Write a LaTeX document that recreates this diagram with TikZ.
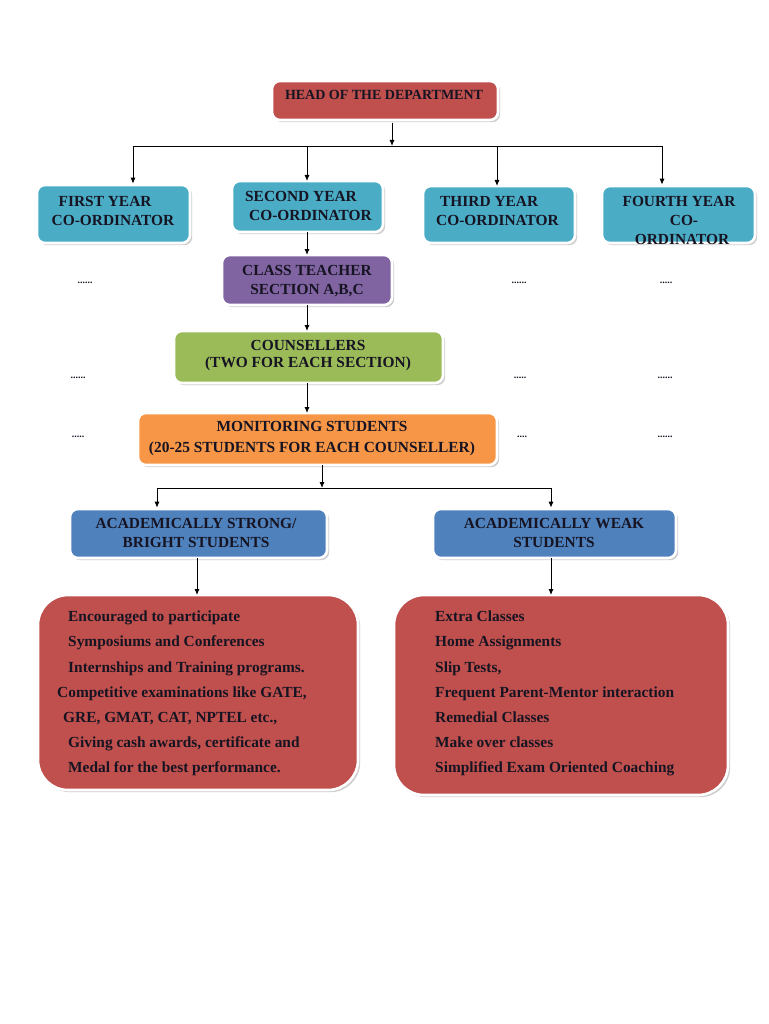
\documentclass[tikz,border=0pt]{standalone}
\usepackage{fontspec}
\setmainfont{Liberation Serif}
\usetikzlibrary{arrows.meta,shadows}
\definecolor{hodred}{HTML}{C0504D}
\definecolor{cyanbox}{HTML}{4BACC6}
\definecolor{purplebox}{HTML}{8064A2}
\definecolor{greenbox}{HTML}{9BBB59}
\definecolor{orangebox}{HTML}{F79646}
\definecolor{bluebox}{HTML}{4F81BD}
\definecolor{txtcol}{RGB}{22,20,34}
\begin{document}
\begin{tikzpicture}[x=1pt,y=-1pt,
  box/.style={rounded corners=8pt, draw=white, line width=2.6pt, inner sep=0pt,
    drop shadow={shadow xshift=2.2pt, shadow yshift=-2.2pt, fill=black!35, opacity=0.55}},
  bigbox/.style={box, rounded corners=30pt},
  lbl/.style={inner sep=0pt, text=txtcol, font=\fontsize{15.4}{19}\selectfont\bfseries},
  listtxt/.style={inner sep=0pt, text=txtcol, align=left, anchor=north west,
    font=\fontsize{15.4}{25.1}\selectfont\bfseries},
  dotstxt/.style={inner sep=0pt, text=txtcol, font=\fontsize{10}{12}\selectfont\bfseries},
  arr/.style={line width=0.9pt, -{Latex[length=6pt,width=5pt]}},
  ln/.style={line width=0.9pt}]
\useasboundingbox[fill=white] (0,0) rectangle (768,1024);

% boxes
\node[box, fill=hodred, minimum width=226pt, minimum height=39pt] (head) at (385,100.5) {};
\node[box, fill=cyanbox, minimum width=153pt, minimum height=58pt] (fy) at (113.5,214) {};
\node[box, fill=cyanbox, minimum width=151pt, minimum height=51pt] (sy) at (307.5,206.5) {};
\node[box, fill=cyanbox, minimum width=152pt, minimum height=57pt] (ty) at (499,214.5) {};
\node[box, fill=cyanbox, minimum width=153pt, minimum height=57pt] (fo) at (678.5,214.5) {};
\node[box, fill=purplebox, minimum width=170pt, minimum height=50pt] (ct) at (307,280) {};
\node[box, fill=greenbox, minimum width=269pt, minimum height=52pt] (co) at (308.5,357) {};
\node[box, fill=orangebox, minimum width=359pt, minimum height=52pt] (mo) at (317.5,439) {};
\node[box, fill=bluebox, minimum width=257pt, minimum height=49pt] (st) at (198.5,533.5) {};
\node[box, fill=bluebox, minimum width=243pt, minimum height=49pt] (wk) at (554.5,533.5) {};
\node[bigbox, fill=hodred, minimum width=320pt, minimum height=195pt] (lb) at (198,692.5) {};
\node[bigbox, fill=hodred, minimum width=334pt, minimum height=200pt] (rb) at (561,695) {};

% labels
\node[lbl, font=\fontsize{14}{19}\selectfont\bfseries] (headT) at (384,95) {HEAD OF THE DEPARTMENT};
\node[lbl, align=left] (fyT) at (113,210.5) {\hspace*{7pt}FIRST YEAR\\CO-ORDINATOR};
\node[lbl, align=left] (syT) at (308.5,206) {SECOND YEAR\\\hspace*{4pt}CO-ORDINATOR};
\node[lbl, align=left] (tyT) at (497.5,210.5) {\hspace*{4pt}THIRD YEAR\\CO-ORDINATOR};
\node[lbl, align=center] (foT) at (679,220) {FOURTH YEAR\\\hspace*{10pt}CO-\\\hspace*{6pt}ORDINATOR};
\node[lbl, align=center] (ctT) at (307,281) {CLASS TEACHER\\SECTION A,B,C};
\node[lbl, align=center, font=\fontsize{15.4}{17}\selectfont\bfseries] (coT) at (308,356) {COUNSELLERS\\(TWO FOR EACH SECTION)};
\node[lbl, align=center, font=\fontsize{15.4}{21}\selectfont\bfseries] (moT) at (312,439) {MONITORING STUDENTS\\(20-25 STUDENTS FOR EACH COUNSELLER)};
\node[lbl, align=center] (stT) at (196,532.5) {ACADEMICALLY STRONG/\\BRIGHT STUDENTS};
\node[lbl, align=center] (wkT) at (554,532.5) {ACADEMICALLY WEAK\\STUDENTS};

\node[listtxt] (lbT) at (57,611) {\hspace*{11pt}Encouraged to participate\\
\hspace*{11pt}Symposiums and Conferences\\
\hspace*{11pt}Internships and Training programs.\\
Competitive examinations like GATE,\\
\hspace*{6pt}GRE, GMAT, CAT, NPTEL etc.,\\
\hspace*{11pt}Giving cash awards, certificate and\\
\hspace*{11pt}Medal for the best performance.};
\node[listtxt] (rbT) at (435,611) {Extra Classes\\
Home Assignments\\
Slip Tests,\\
Frequent Parent-Mentor interaction\\
Remedial Classes\\
Make over classes\\
Simplified Exam Oriented Coaching};

% dots
\node[dotstxt] (d11) at (85,283) {......};
\node[dotstxt] (d12) at (519,283) {......};
\node[dotstxt] (d13) at (666,283) {.....};
\node[dotstxt] (d21) at (78,378) {......};
\node[dotstxt] (d22) at (520,378) {.....};
\node[dotstxt] (d23) at (665,378) {......};
\node[dotstxt] (d31) at (78,437) {.....};
\node[dotstxt] (d32) at (522,437) {....};
\node[dotstxt] (d33) at (665,437) {......};

% connectors
\coordinate (hb) at (392,123);
\coordinate (bus) at (392,146);
\coordinate (busL) at (133,146);
\coordinate (busR) at (662,146);
\draw[arr] (hb) -- (bus);
\draw[ln] (busL) -- (busR);
\draw[arr] (busL) -- (busL |- fy.north);
\draw[arr] (307,146) -- (307,181);
\draw[arr] (497,146) -- (497,186);
\draw[arr] (busR) -- (busR |- fo.north);
\draw[arr] (307,232) -- (307,255);
\draw[arr] (307,305) -- (307,331);
\draw[arr] (307,383) -- (307,413);
\coordinate (mb) at (322,465);
\coordinate (bus2) at (322,488);
\coordinate (bus2L) at (157,488);
\coordinate (bus2R) at (551,488);
\draw[arr] (mb) -- (bus2);
\draw[ln] (bus2L) -- (bus2R);
\draw[arr] (bus2L) -- (bus2L |- st.north);
\draw[arr] (bus2R) -- (bus2R |- wk.north);
\draw[arr] (197,558) -- (197,595);
\draw[arr] (551,558) -- (551,595);
\end{tikzpicture}
\end{document}
